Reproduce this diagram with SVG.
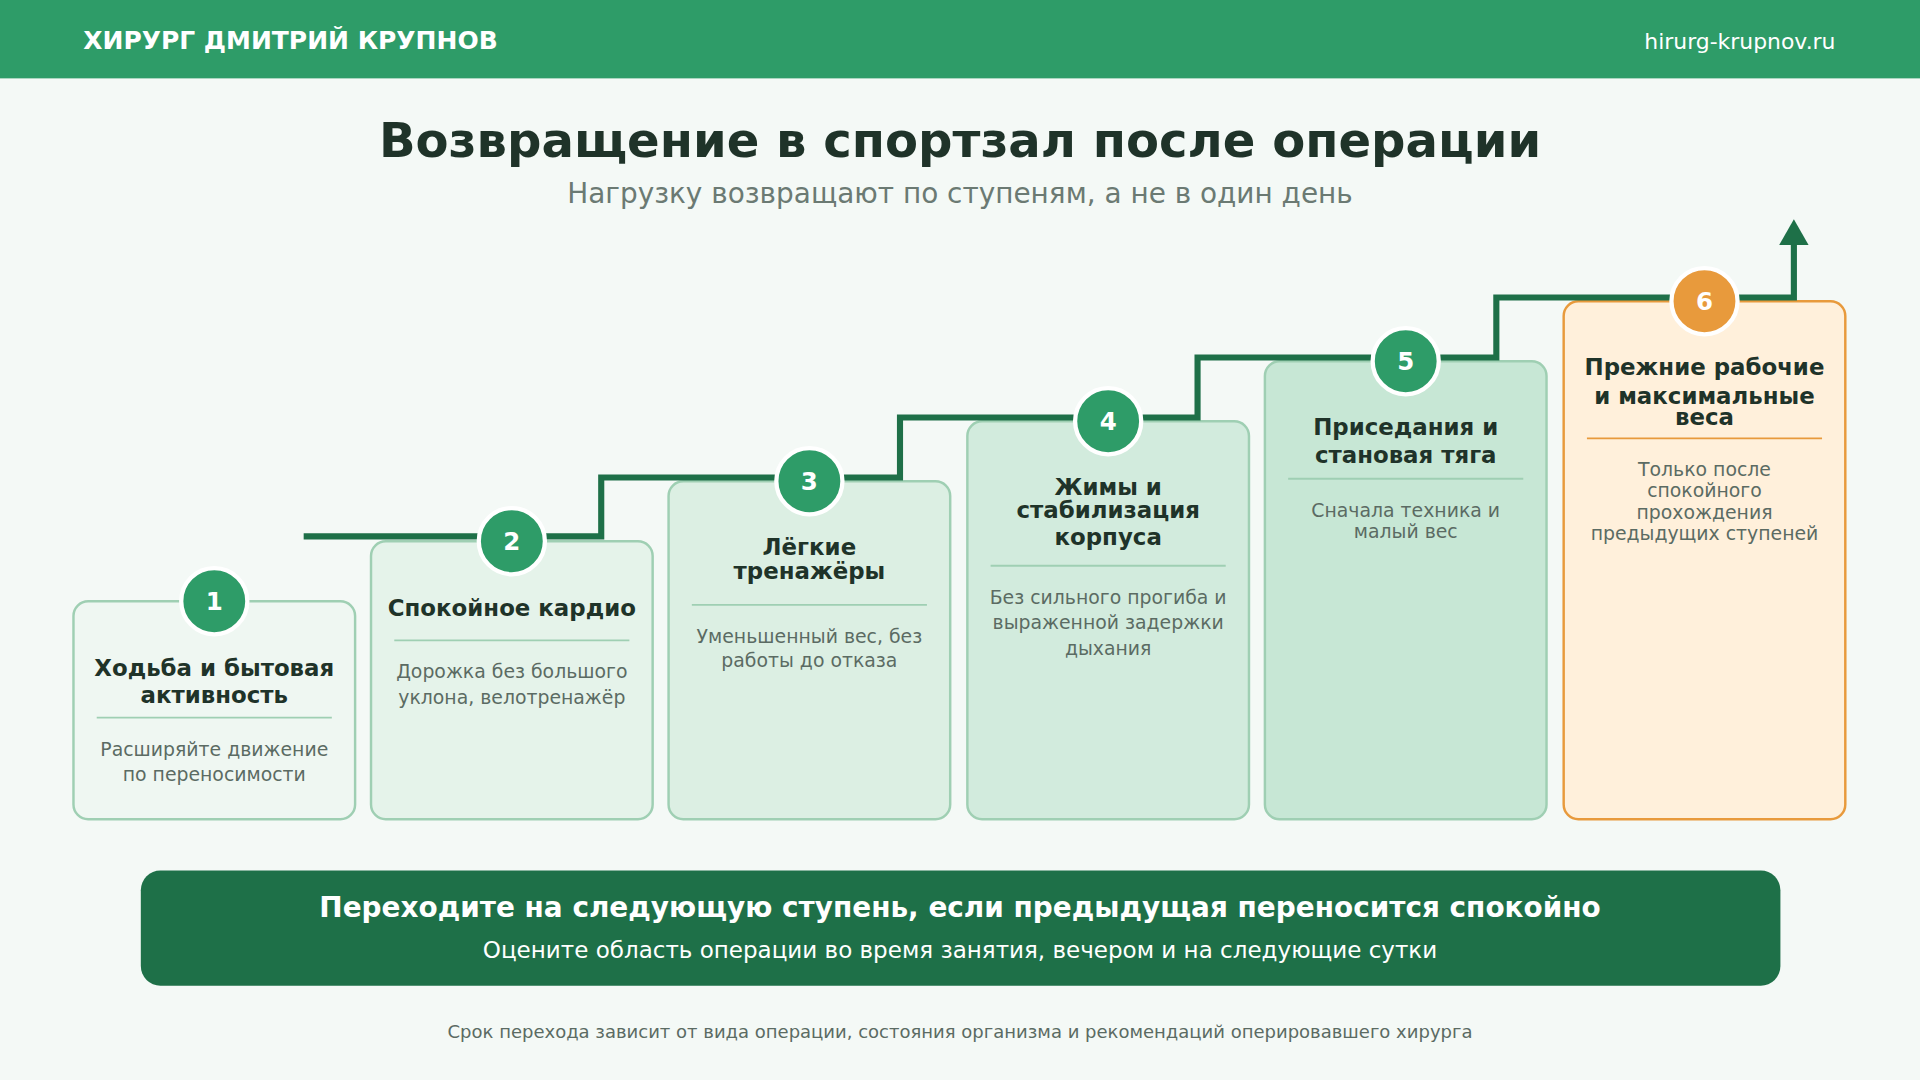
<svg xmlns="http://www.w3.org/2000/svg" width="1920" height="1080" viewBox="0 0 1920 1080">
<defs>
<style>
text{font-family:"DejaVu Sans","Noto Sans",sans-serif}
.card{stroke:#9fcfb3;stroke-width:2}
.t{font-size:18.7px;font-weight:bold;fill:#1f3329;text-anchor:middle}
.d{font-size:15.4px;fill:#5b6b63;text-anchor:middle}
.dv{stroke:#9fcfb3;stroke-width:1.5}
.c{fill:#2e9c68;stroke:#fff;stroke-width:3.5}
.n{font-size:20px;font-weight:bold;fill:#fff;text-anchor:middle}
</style>
</defs>
<g transform="scale(1.22449)">
<rect width="1568" height="882" fill="#f4f9f6"/>
<g id="header">
<rect width="1568" height="64" fill="#2e9c68"/>
<text x="68" y="40" font-size="20.4" font-weight="bold" fill="#fff">ХИРУРГ ДМИТРИЙ КРУПНОВ</text>
<text x="1499" y="40" font-size="17.9" fill="#fff" text-anchor="end">hirurg-krupnov.ru</text>
</g>
<g id="title">
<text x="784" y="128" font-size="39.3" font-weight="bold" fill="#1f3329" text-anchor="middle">Возвращение в спортзал после операции</text>
<text x="784" y="166" font-size="22.8" fill="#6b7a73" text-anchor="middle">Нагрузку возвращают по ступеням, а не в один день</text>
</g>
<g id="card1"><rect class="card" x="60" y="491" width="230" height="178" rx="12" fill="#eff7f2"/>
<text class="t" x="175" y="552">Ходьба и бытовая</text><text class="t" x="175" y="574">активность</text>
<line class="dv" x1="79" y1="586" x2="271" y2="586"/>
<text class="d" x="175" y="617">Расширяйте движение</text><text class="d" x="175" y="638">по переносимости</text></g>
<g id="card2"><rect class="card" x="303" y="442" width="230" height="227" rx="12" fill="#e5f3ea"/>
<text class="t" x="418" y="503">Спокойное кардио</text>
<line class="dv" x1="322" y1="523" x2="514" y2="523"/>
<text class="d" x="418" y="554">Дорожка без большого</text><text class="d" x="418" y="575">уклона, велотренажёр</text></g>
<g id="card3"><rect class="card" x="546" y="393" width="230" height="276" rx="12" fill="#dcefe3"/>
<text class="t" x="661" y="453">Лёгкие</text><text class="t" x="661" y="473">тренажёры</text>
<line class="dv" x1="565" y1="494" x2="757" y2="494"/>
<text class="d" x="661" y="525">Уменьшенный вес, без</text><text class="d" x="661" y="545">работы до отказа</text></g>
<g id="card4"><rect class="card" x="790" y="344" width="230" height="325" rx="12" fill="#d2ebdd"/>
<text class="t" x="905" y="404">Жимы и</text><text class="t" x="905" y="423">стабилизация</text><text class="t" x="905" y="445">корпуса</text>
<line class="dv" x1="809" y1="462" x2="1001" y2="462"/>
<text class="d" x="905" y="493">Без сильного прогиба и</text><text class="d" x="905" y="514">выраженной задержки</text><text class="d" x="905" y="535">дыхания</text></g>
<g id="card5"><rect class="card" x="1033" y="295" width="230" height="374" rx="12" fill="#c7e7d5"/>
<text class="t" x="1148" y="355">Приседания и</text><text class="t" x="1148" y="378">становая тяга</text>
<line class="dv" x1="1052" y1="391" x2="1244" y2="391"/>
<text class="d" x="1148" y="422">Сначала техника и</text><text class="d" x="1148" y="439">малый вес</text></g>
<g id="card6"><rect x="1277" y="246" width="230" height="423" rx="12" fill="#fff0db" stroke="#e89a3c" stroke-width="2"/>
<text class="t" x="1392" y="306">Прежние рабочие</text><text class="t" x="1392" y="330">и максимальные</text><text class="t" x="1392" y="347">веса</text>
<line x1="1296" y1="358" x2="1488" y2="358" stroke="#e89a3c" stroke-width="1.5"/>
<text class="d" x="1392" y="389">Только после</text><text class="d" x="1392" y="406">спокойного</text><text class="d" x="1392" y="424">прохождения</text><text class="d" x="1392" y="441">предыдущих ступеней</text></g>
<g id="connectors">
<path d="M248,438 H491 V390 H735 V341 H978 V292 H1222 V243 H1465 V198" fill="none" stroke="#1e7048" stroke-width="5"/>
<polygon points="1453,200 1465,179 1477,200" fill="#1e7048"/>
</g>
<g id="badges">
<circle class="c" cx="175" cy="491" r="27"/><text class="n" x="175" y="498">1</text>
<circle class="c" cx="418" cy="442" r="27"/><text class="n" x="418" y="449">2</text>
<circle class="c" cx="661" cy="393" r="27"/><text class="n" x="661" y="400">3</text>
<circle class="c" cx="905" cy="344" r="27"/><text class="n" x="905" y="351">4</text>
<circle class="c" cx="1148" cy="295" r="27"/><text class="n" x="1148" y="302">5</text>
<circle class="c" cx="1392" cy="246" r="27" style="fill:#e89a3c"/><text class="n" x="1392" y="253">6</text>
</g>
<g id="banner">
<rect x="115" y="711" width="1339" height="94" rx="16" fill="#1e7048"/>
<text x="784" y="749" font-size="22.8" font-weight="bold" fill="#fff" text-anchor="middle">Переходите на следующую ступень, если предыдущая переносится спокойно</text>
<text x="784" y="782" font-size="18.8" fill="#fff" text-anchor="middle">Оцените область операции во время занятия, вечером и на следующие сутки</text>
</g>
<text x="784" y="848" font-size="14.7" fill="#5b6b63" text-anchor="middle">Срок перехода зависит от вида операции, состояния организма и рекомендаций оперировавшего хирурга</text>
</g>
</svg>
